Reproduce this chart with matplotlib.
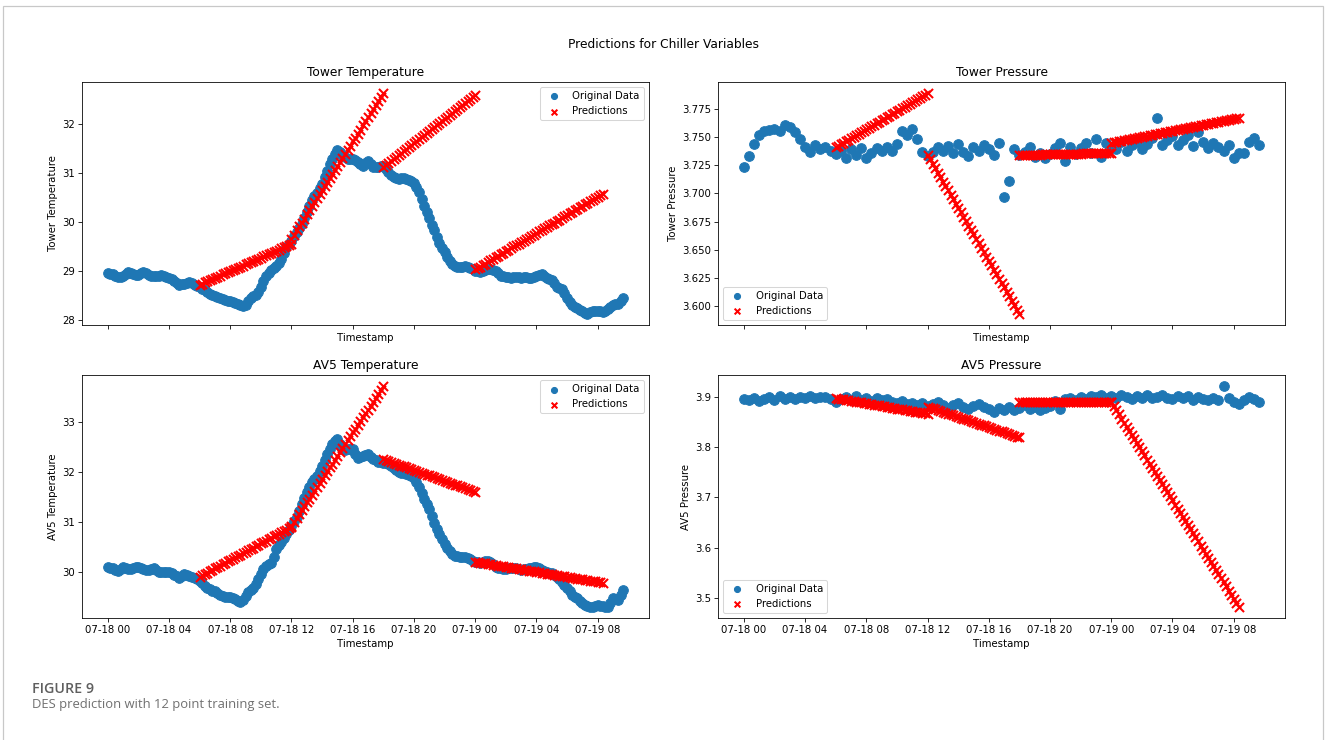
import pandas as pd
import matplotlib
matplotlib.use("Agg")
import matplotlib.pyplot as plt
import matplotlib.dates as mdates
from matplotlib.patches import Rectangle

start = pd.Timestamp("2023-07-18 00:00")

# temperatures logged every 10 min, pressures every 20 min, from 07-18 00:00
tower_temp = [
    28.95, 28.94, 28.93, 28.90, 28.88, 28.88, 28.90, 28.94, 28.97, 28.95, 28.93, 28.92, 28.92, 28.95, 28.97, 28.95, 28.92, 28.90,
    28.89, 28.90, 28.90, 28.91, 28.90, 28.88, 28.85, 28.83, 28.80, 28.75, 28.72, 28.73, 28.74, 28.76, 28.77, 28.75, 28.72, 28.70,
    28.68, 28.64, 28.60, 28.56, 28.53, 28.50, 28.48, 28.46, 28.44, 28.42, 28.40, 28.39, 28.38, 28.36, 28.34, 28.32, 28.30, 28.28,
    28.30, 28.38, 28.45, 28.48, 28.50, 28.56, 28.67, 28.80, 28.90, 28.96, 29.02, 29.05, 29.10, 29.17, 29.25, 29.37, 29.48, 29.55,
    29.62, 29.71, 29.80, 29.88, 29.97, 30.08, 30.20, 30.33, 30.45, 30.53, 30.60, 30.69, 30.78, 30.92, 31.05, 31.18, 31.30, 31.40,
    31.48, 31.43, 31.38, 31.33, 31.30, 31.30, 31.30, 31.26, 31.22, 31.18, 31.15, 31.20, 31.25, 31.19, 31.13, 31.12, 31.12, 31.14,
    31.15, 31.08, 31.02, 30.97, 30.93, 30.90, 30.89, 30.90, 30.90, 30.89, 30.87, 30.83, 30.79, 30.72, 30.62, 30.48, 30.33, 30.20,
    30.08, 29.95, 29.83, 29.70, 29.58, 29.47, 29.38, 29.28, 29.20, 29.14, 29.10, 29.09, 29.08, 29.09, 29.10, 29.08, 29.06, 29.03,
    29.00, 28.99, 28.98, 29.00, 29.02, 29.03, 29.04, 29.02, 29.00, 28.95, 28.90, 28.89, 28.88, 28.87, 28.86, 28.87, 28.88, 28.87,
    28.86, 28.87, 28.88, 28.86, 28.85, 28.88, 28.90, 28.92, 28.94, 28.90, 28.86, 28.84, 28.82, 28.75, 28.68, 28.65, 28.62, 28.54,
    28.45, 28.37, 28.30, 28.27, 28.25, 28.21, 28.17, 28.14, 28.12, 28.15, 28.17, 28.18, 28.18, 28.17, 28.16, 28.19, 28.22, 28.26,
    28.30, 28.32, 28.33, 28.39, 28.45,
]

av5_temp = [
    30.09, 30.08, 30.07, 30.04, 30.02, 30.06, 30.10, 30.07, 30.05, 30.06, 30.08, 30.09, 30.10, 30.08, 30.06, 30.04, 30.03, 30.05,
    30.07, 30.03, 30.00, 29.99, 29.99, 30.00, 30.00, 29.97, 29.94, 29.91, 29.88, 29.92, 29.95, 29.94, 29.92, 29.89, 29.87, 29.85,
    29.82, 29.77, 29.72, 29.68, 29.65, 29.62, 29.60, 29.56, 29.52, 29.50, 29.49, 29.49, 29.48, 29.46, 29.44, 29.41, 29.38, 29.42,
    29.50, 29.58, 29.63, 29.68, 29.75, 29.85, 29.95, 30.05, 30.12, 30.15, 30.18, 30.30, 30.45, 30.53, 30.60, 30.68, 30.75, 30.83,
    30.92, 31.01, 31.10, 31.22, 31.35, 31.48, 31.60, 31.70, 31.80, 31.86, 31.92, 32.02, 32.12, 32.24, 32.35, 32.45, 32.55, 32.62,
    32.65, 32.55, 32.45, 32.44, 32.45, 32.46, 32.45, 32.36, 32.28, 32.30, 32.32, 32.34, 32.35, 32.30, 32.26, 32.23, 32.20, 32.19,
    32.18, 32.17, 32.15, 32.11, 32.08, 32.04, 32.00, 31.98, 31.97, 31.96, 31.94, 31.91, 31.87, 31.80, 31.70, 31.58, 31.45, 31.35,
    31.25, 31.11, 30.98, 30.86, 30.75, 30.65, 30.55, 30.48, 30.42, 30.36, 30.32, 30.31, 30.30, 30.30, 30.30, 30.28, 30.25, 30.22,
    30.20, 30.19, 30.18, 30.20, 30.22, 30.21, 30.20, 30.15, 30.10, 30.08, 30.07, 30.06, 30.06, 30.07, 30.08, 30.08, 30.07, 30.05,
    30.04, 30.05, 30.06, 30.07, 30.08, 30.09, 30.10, 30.07, 30.03, 30.01, 30.00, 29.98, 29.97, 29.94, 29.90, 29.85, 29.80, 29.73,
    29.67, 29.60, 29.53, 29.49, 29.46, 29.41, 29.36, 29.33, 29.30, 29.29, 29.29, 29.31, 29.33, 29.31, 29.30, 29.29, 29.29, 29.37,
    29.46, 29.45, 29.43, 29.53, 29.63,
]

tower_press = [
    3.723, 3.733, 3.744, 3.752, 3.755, 3.756, 3.757, 3.755, 3.761,
    3.759, 3.754, 3.748, 3.741, 3.737, 3.743, 3.739, 3.741, 3.738,
    3.735, 3.738, 3.731, 3.739, 3.734, 3.740, 3.731, 3.736, 3.740,
    3.738, 3.741, 3.738, 3.744, 3.755, 3.752, 3.757, 3.748, 3.737,
    3.733, 3.737, 3.741, 3.738, 3.742, 3.736, 3.744, 3.737, 3.733,
    3.741, 3.738, 3.743, 3.739, 3.734, 3.745, 3.697, 3.711, 3.739,
    3.734, 3.737, 3.741, 3.732, 3.736, 3.731, 3.735, 3.740, 3.745,
    3.729, 3.741, 3.735, 3.740, 3.745, 3.736, 3.748, 3.732, 3.745,
    3.741, 3.739, 3.746, 3.738, 3.743, 3.746, 3.739, 3.744, 3.749,
    3.767, 3.743, 3.747, 3.751, 3.743, 3.747, 3.752, 3.742, 3.754,
    3.746, 3.740, 3.745, 3.741, 3.738, 3.743, 3.731, 3.736, 3.736,
    3.746, 3.749, 3.743,
]

av5_press = [
    3.895, 3.893, 3.897, 3.892, 3.896, 3.899, 3.894, 3.902, 3.896,
    3.899, 3.895, 3.900, 3.898, 3.901, 3.897, 3.900, 3.899, 3.896,
    3.890, 3.895, 3.899, 3.893, 3.901, 3.894, 3.897, 3.891, 3.898,
    3.893, 3.895, 3.890, 3.888, 3.892, 3.886, 3.888, 3.884, 3.887,
    3.882, 3.886, 3.889, 3.884, 3.878, 3.884, 3.887, 3.879, 3.876,
    3.882, 3.885, 3.879, 3.875, 3.870, 3.878, 3.874, 3.880, 3.873,
    3.878, 3.884, 3.875, 3.880, 3.873, 3.878, 3.882, 3.891, 3.875,
    3.895, 3.898, 3.894, 3.900, 3.896, 3.902, 3.899, 3.904, 3.898,
    3.901, 3.897, 3.903, 3.899, 3.896, 3.902, 3.898, 3.903, 3.897,
    3.900, 3.904, 3.898, 3.895, 3.901, 3.897, 3.902, 3.894, 3.899,
    3.896, 3.893, 3.898, 3.894, 3.921, 3.897, 3.890, 3.886, 3.893,
    3.900, 3.896, 3.889,
]

# DES forecasts, one value every 10 min; each block starts at the given hour of 07-18
pred_step = "10min"
pred_start_hours = [6, 12, 18, 24]

tower_temp_pred = [
    [28.72, 28.74, 28.77, 28.79, 28.81, 28.84, 28.86, 28.88, 28.90, 28.93,
     28.95, 28.97, 29.00, 29.02, 29.04, 29.07, 29.09, 29.11, 29.14, 29.16,
     29.18, 29.20, 29.23, 29.25, 29.27, 29.30, 29.32, 29.34, 29.37, 29.39,
     29.41, 29.43, 29.46, 29.48, 29.50, 29.53, 29.55],
    [29.66, 29.74, 29.83, 29.91, 29.99, 30.07, 30.16, 30.24, 30.32, 30.41,
     30.49, 30.57, 30.65, 30.74, 30.82, 30.90, 30.98, 31.07, 31.15, 31.23,
     31.32, 31.40, 31.48, 31.56, 31.65, 31.73, 31.81, 31.89, 31.98, 32.06,
     32.14, 32.23, 32.31, 32.39, 32.47, 32.56, 32.64],
    [31.13, 31.17, 31.21, 31.25, 31.29, 31.33, 31.38, 31.42, 31.46, 31.50,
     31.54, 31.58, 31.62, 31.66, 31.70, 31.74, 31.78, 31.82, 31.87, 31.91,
     31.95, 31.99, 32.03, 32.07, 32.11, 32.15, 32.19, 32.23, 32.27, 32.31,
     32.36, 32.40, 32.44, 32.48, 32.52, 32.56, 32.60],
    [29.03, 29.06, 29.09, 29.12, 29.15, 29.19, 29.22, 29.25, 29.28, 29.31,
     29.34, 29.37, 29.40, 29.43, 29.46, 29.50, 29.53, 29.56, 29.59, 29.62,
     29.65, 29.68, 29.71, 29.74, 29.77, 29.81, 29.84, 29.87, 29.90, 29.93,
     29.96, 29.99, 30.02, 30.05, 30.08, 30.12, 30.15, 30.18, 30.21, 30.24,
     30.27, 30.30, 30.33, 30.36, 30.39, 30.43, 30.46, 30.49, 30.52, 30.55,
     30.58],
]

tower_press_pred = [
    [3.7410, 3.7423, 3.7437, 3.7450, 3.7463, 3.7477, 3.7490, 3.7503, 3.7517, 3.7530,
     3.7543, 3.7557, 3.7570, 3.7583, 3.7597, 3.7610, 3.7623, 3.7637, 3.7650, 3.7663,
     3.7677, 3.7690, 3.7703, 3.7717, 3.7730, 3.7743, 3.7757, 3.7770, 3.7783, 3.7797,
     3.7810, 3.7823, 3.7837, 3.7850, 3.7863, 3.7877, 3.7890],
    [3.7340, 3.7301, 3.7262, 3.7223, 3.7183, 3.7144, 3.7105, 3.7066, 3.7027, 3.6988,
     3.6948, 3.6909, 3.6870, 3.6831, 3.6792, 3.6753, 3.6713, 3.6674, 3.6635, 3.6596,
     3.6557, 3.6518, 3.6478, 3.6439, 3.6400, 3.6361, 3.6322, 3.6283, 3.6243, 3.6204,
     3.6165, 3.6126, 3.6087, 3.6048, 3.6008, 3.5969, 3.5930],
    [3.7340, 3.7341, 3.7341, 3.7342, 3.7342, 3.7343, 3.7343, 3.7344, 3.7344, 3.7345,
     3.7346, 3.7346, 3.7347, 3.7347, 3.7348, 3.7348, 3.7349, 3.7349, 3.7350, 3.7351,
     3.7351, 3.7352, 3.7352, 3.7353, 3.7353, 3.7354, 3.7354, 3.7355, 3.7356, 3.7356,
     3.7357, 3.7357, 3.7358, 3.7358, 3.7359, 3.7359, 3.7360],
    [3.7450, 3.7454, 3.7459, 3.7463, 3.7468, 3.7472, 3.7476, 3.7481, 3.7485, 3.7490,
     3.7494, 3.7498, 3.7503, 3.7507, 3.7512, 3.7516, 3.7520, 3.7525, 3.7529, 3.7534,
     3.7538, 3.7542, 3.7547, 3.7551, 3.7556, 3.7560, 3.7564, 3.7569, 3.7573, 3.7578,
     3.7582, 3.7586, 3.7591, 3.7595, 3.7600, 3.7604, 3.7608, 3.7613, 3.7617, 3.7622,
     3.7626, 3.7630, 3.7635, 3.7639, 3.7644, 3.7648, 3.7652, 3.7657, 3.7661, 3.7666,
     3.7670],
]

av5_temp_pred = [
    [29.90, 29.93, 29.96, 29.98, 30.01, 30.04, 30.07, 30.09, 30.12, 30.15,
     30.18, 30.21, 30.23, 30.26, 30.29, 30.32, 30.34, 30.37, 30.40, 30.43,
     30.46, 30.48, 30.51, 30.54, 30.57, 30.59, 30.62, 30.65, 30.68, 30.71,
     30.73, 30.76, 30.79, 30.82, 30.84, 30.87, 30.90],
    [30.92, 31.00, 31.08, 31.15, 31.23, 31.31, 31.39, 31.46, 31.54, 31.62,
     31.70, 31.78, 31.85, 31.93, 32.01, 32.09, 32.16, 32.24, 32.32, 32.40,
     32.48, 32.55, 32.63, 32.71, 32.79, 32.86, 32.94, 33.02, 33.10, 33.18,
     33.25, 33.33, 33.41, 33.49, 33.56, 33.64, 33.72],
    [32.25, 32.23, 32.21, 32.20, 32.18, 32.16, 32.14, 32.12, 32.11, 32.09,
     32.07, 32.05, 32.03, 32.02, 32.00, 31.98, 31.96, 31.94, 31.93, 31.91,
     31.89, 31.87, 31.85, 31.83, 31.82, 31.80, 31.78, 31.76, 31.74, 31.73,
     31.71, 31.69, 31.67, 31.65, 31.64, 31.62, 31.60],
    [30.20, 30.19, 30.18, 30.17, 30.17, 30.16, 30.15, 30.14, 30.13, 30.12,
     30.12, 30.11, 30.10, 30.09, 30.08, 30.07, 30.07, 30.06, 30.05, 30.04,
     30.03, 30.02, 30.02, 30.01, 30.00, 29.99, 29.98, 29.97, 29.96, 29.96,
     29.95, 29.94, 29.93, 29.92, 29.91, 29.91, 29.90, 29.89, 29.88, 29.87,
     29.86, 29.86, 29.85, 29.84, 29.83, 29.82, 29.81, 29.81, 29.80, 29.79,
     29.78],
]

av5_press_pred = [
    [3.8970, 3.8961, 3.8953, 3.8944, 3.8936, 3.8927, 3.8918, 3.8910, 3.8901, 3.8893,
     3.8884, 3.8875, 3.8867, 3.8858, 3.8849, 3.8841, 3.8832, 3.8824, 3.8815, 3.8806,
     3.8798, 3.8789, 3.8781, 3.8772, 3.8763, 3.8755, 3.8746, 3.8737, 3.8729, 3.8720,
     3.8712, 3.8703, 3.8694, 3.8686, 3.8677, 3.8669, 3.8660],
    [3.8800, 3.8783, 3.8766, 3.8749, 3.8732, 3.8715, 3.8698, 3.8681, 3.8664, 3.8648,
     3.8631, 3.8614, 3.8597, 3.8580, 3.8563, 3.8546, 3.8529, 3.8512, 3.8495, 3.8478,
     3.8461, 3.8444, 3.8427, 3.8410, 3.8393, 3.8376, 3.8359, 3.8342, 3.8326, 3.8309,
     3.8292, 3.8275, 3.8258, 3.8241, 3.8224, 3.8207, 3.8190],
    [3.8885, 3.8885, 3.8886, 3.8886, 3.8886, 3.8886, 3.8887, 3.8887, 3.8887, 3.8888,
     3.8888, 3.8888, 3.8888, 3.8889, 3.8889, 3.8889, 3.8889, 3.8890, 3.8890, 3.8890,
     3.8891, 3.8891, 3.8891, 3.8891, 3.8892, 3.8892, 3.8892, 3.8893, 3.8893, 3.8893,
     3.8893, 3.8894, 3.8894, 3.8894, 3.8894, 3.8895, 3.8895],
    [3.8890, 3.8809, 3.8727, 3.8646, 3.8564, 3.8483, 3.8402, 3.8320, 3.8239, 3.8157,
     3.8076, 3.7995, 3.7913, 3.7832, 3.7750, 3.7669, 3.7588, 3.7506, 3.7425, 3.7343,
     3.7262, 3.7181, 3.7099, 3.7018, 3.6936, 3.6855, 3.6774, 3.6692, 3.6611, 3.6529,
     3.6448, 3.6367, 3.6285, 3.6204, 3.6122, 3.6041, 3.5960, 3.5878, 3.5797, 3.5715,
     3.5634, 3.5553, 3.5471, 3.5390, 3.5308, 3.5227, 3.5146, 3.5064, 3.4983, 3.4901,
     3.4820],
]

panels = [
    ("Tower Temperature", tower_temp, "10min", tower_temp_pred, "upper right"),
    ("Tower Pressure", tower_press, "20min", tower_press_pred, "lower left"),
    ("AV5 Temperature", av5_temp, "10min", av5_temp_pred, "upper right"),
    ("AV5 Pressure", av5_press, "20min", av5_press_pred, "lower left"),
]

DPI = 73.3
W, H = 1327, 740
fig, axes = plt.subplots(2, 2, sharex=True, figsize=(W / DPI, H / DPI), dpi=DPI)
fig.subplots_adjust(left=82 / W, right=1285 / W, top=1 - 82 / H, bottom=1 - 618 / H,
                    wspace=0.122, hspace=0.206)

for ax, (name, vals, freq, preds, loc) in zip(axes.flat, panels):
    t = pd.date_range(start, periods=len(vals), freq=freq)
    ax.scatter(t, vals, s=90, label="Original Data")
    for i, (h, seg) in enumerate(zip(pred_start_hours, preds)):
        tp = pd.date_range(start + pd.Timedelta(hours=h), periods=len(seg), freq=pred_step)
        ax.scatter(tp, seg, s=80, color="red", marker="x", linewidths=2,
                   label="Predictions" if i == 0 else None)
    ax.set_title(name)
    ax.set_xlabel("Timestamp")
    ax.set_ylabel(name)
    ax.legend(loc=loc, markerscale=0.63)
    ax.xaxis.set_major_locator(mdates.HourLocator(byhour=range(0, 24, 4)))
    ax.xaxis.set_major_formatter(mdates.DateFormatter("%m-%d %H"))

fig.suptitle("Predictions for Chiller Variables", y=1 - 38 / H)

# journal frame and caption
fig.patches.append(Rectangle((3 / W, -0.05), 1320 / W, 1.05 - 6 / H, transform=fig.transFigure,
                             fill=False, edgecolor="#c8c8c8", linewidth=1.2))
fig.text(32 / W, 1 - 693 / H, "FIGURE 9", family="Open Sans", fontweight="semibold",
         fontsize=14, color="#5f5f5f")
fig.text(32 / W, 1 - 708 / H, "DES prediction with 12 point training set.", family="Open Sans",
         fontsize=12.8, color="#707070")

fig.savefig("out.png", dpi=DPI)
